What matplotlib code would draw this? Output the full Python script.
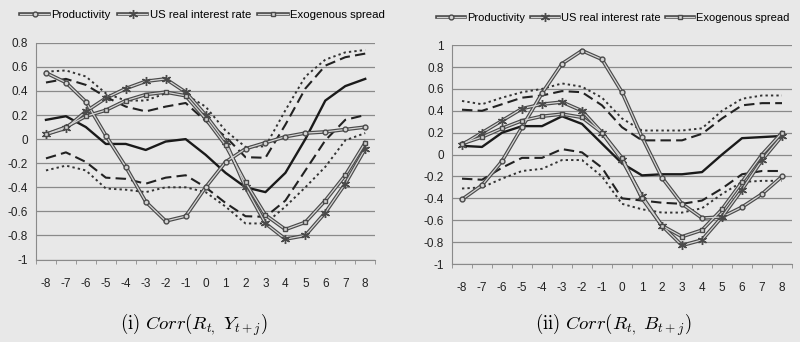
import numpy as np
import matplotlib
matplotlib.use("Agg")
import matplotlib.pyplot as plt

# leads/lags j = -8 .. 8
lags = list(range(-8, 9))

# (i) Corr(R_t, Y_t+j)
prod_y = [0.55, 0.47, 0.31, 0.03, -0.23, -0.52, -0.68, -0.64, -0.40, -0.19, -0.08, -0.03, 0.02, 0.05, 0.06, 0.08, 0.10]
usr_y = [0.04, 0.09, 0.23, 0.34, 0.42, 0.48, 0.50, 0.39, 0.20, -0.02, -0.40, -0.70, -0.83, -0.80, -0.61, -0.37, -0.08]
spread_y = [0.04, 0.10, 0.19, 0.24, 0.32, 0.37, 0.39, 0.36, 0.17, -0.05, -0.36, -0.63, -0.75, -0.69, -0.51, -0.30, -0.03]
data_y = [0.16, 0.19, 0.10, -0.04, -0.04, -0.09, -0.02, 0.00, -0.13, -0.28, -0.40, -0.44, -0.28, 0.00, 0.32, 0.44, 0.50]
band1_hi_y = [0.47, 0.50, 0.45, 0.35, 0.27, 0.23, 0.27, 0.30, 0.15, 0.02, -0.15, -0.155, 0.12, 0.42, 0.61, 0.68, 0.71]
band2_hi_y = [0.56, 0.57, 0.52, 0.38, 0.32, 0.32, 0.38, 0.37, 0.27, 0.07, -0.065, -0.06, 0.24, 0.52, 0.66, 0.72, 0.74]
band1_lo_y = [-0.16, -0.11, -0.19, -0.32, -0.33, -0.37, -0.32, -0.30, -0.40, -0.53, -0.64, -0.645, -0.51, -0.26, -0.01, 0.16, 0.20]
band2_lo_y = [-0.26, -0.22, -0.26, -0.41, -0.42, -0.44, -0.40, -0.40, -0.44, -0.56, -0.70, -0.70, -0.56, -0.40, -0.23, -0.01, 0.05]

# (ii) Corr(R_t, B_t+j)
prod_b = [-0.41, -0.28, -0.06, 0.25, 0.56, 0.83, 0.95, 0.87, 0.57, 0.16, -0.21, -0.45, -0.58, -0.57, -0.48, -0.36, -0.20]
usr_b = [0.09, 0.20, 0.31, 0.42, 0.46, 0.48, 0.40, 0.20, -0.05, -0.38, -0.65, -0.83, -0.78, -0.57, -0.32, -0.05, 0.17]
spread_b = [0.10, 0.16, 0.24, 0.31, 0.35, 0.37, 0.34, 0.20, -0.03, -0.40, -0.65, -0.75, -0.69, -0.50, -0.25, 0.00, 0.20]
data_b = [0.08, 0.07, 0.20, 0.26, 0.26, 0.35, 0.28, 0.10, -0.08, -0.19, -0.18, -0.18, -0.16, 0.00, 0.15, 0.16, 0.17]
band1_hi_b = [0.41, 0.40, 0.46, 0.52, 0.54, 0.58, 0.57, 0.45, 0.25, 0.13, 0.13, 0.13, 0.19, 0.33, 0.45, 0.47, 0.47]
band2_hi_b = [0.49, 0.46, 0.52, 0.57, 0.60, 0.65, 0.62, 0.52, 0.33, 0.22, 0.22, 0.22, 0.24, 0.40, 0.51, 0.54, 0.54]
band1_lo_b = [-0.22, -0.23, -0.12, -0.03, -0.03, 0.05, 0.02, -0.12, -0.40, -0.42, -0.44, -0.45, -0.42, -0.31, -0.18, -0.15, -0.15]
band2_lo_b = [-0.31, -0.30, -0.22, -0.15, -0.13, -0.05, -0.05, -0.20, -0.45, -0.50, -0.53, -0.53, -0.49, -0.36, -0.25, -0.24, -0.24]

bg = "#e8e8e8"
dark = "#4a4a4a"
light = "#d4d4d4"
star = (6, 2, 0)

plt.rcParams["font.family"] = ["Liberation Sans Narrow", "Liberation Sans", "DejaVu Sans"]
plt.rcParams["mathtext.fontset"] = "cm"

fig = plt.figure(figsize=(8, 3.42), dpi=100, facecolor=bg)


def double_line(ax, x, y, marker, ms, label):
    # grey outline with a light core, like the scanned excel lines
    under, = ax.plot(x, y, color=dark, lw=2.6, solid_joinstyle="miter", zorder=4)
    over, = ax.plot(x, y, color=light, lw=0.9, marker=marker, ms=ms,
                    mfc=light, mec=dark, mew=1.0, zorder=5, label=label)
    return (under, over)


def panel(ax, prod, usr, spread, data, b1hi, b2hi, b1lo, b2lo, ymin, ymax, step):
    ax.set_facecolor(bg)
    x = np.arange(len(lags))
    ax.plot(x, b2hi, color="#333333", lw=1.4, ls=(0, (1.2, 1.6)), zorder=3)
    ax.plot(x, b2lo, color="#333333", lw=1.4, ls=(0, (1.2, 1.6)), zorder=3)
    ax.plot(x, b1hi, color="#222222", lw=1.5, ls=(0, (5, 2.5)), zorder=3)
    ax.plot(x, b1lo, color="#222222", lw=1.5, ls=(0, (5, 2.5)), zorder=3)
    ax.plot(x, data, color="#1a1a1a", lw=1.7, zorder=3)
    h1 = double_line(ax, x, prod, "o", 3.5, "Productivity")
    h2 = double_line(ax, x, usr, star, 6.5, "US real interest rate")
    h3 = double_line(ax, x, spread, "s", 3.5, "Exogenous spread")

    ax.set_xlim(-0.5, len(lags) - 0.5)
    ax.set_ylim(ymin, ymax)
    ax.set_xticks(x)
    ax.set_xticklabels([str(j) for j in lags])
    ax.set_xticks(np.arange(-0.5, len(lags), 1), minor=True)
    yt = np.round(np.arange(ymin, ymax + 1e-9, step), 1)
    ax.set_yticks(yt)
    ax.set_yticklabels(["0" if v == 0 else ("%g" % v) for v in yt])
    ax.grid(axis="y", color="#8a8a8a", lw=0.9)
    ax.set_axisbelow(True)
    for s in ["top", "right"]:
        ax.spines[s].set_visible(False)
    ax.spines["left"].set_color("#8a8a8a")
    ax.spines["bottom"].set_color("#8a8a8a")
    ax.tick_params(axis="x", which="major", length=0, pad=13, labelsize=8.5, colors="#222222")
    ax.tick_params(axis="x", which="minor", length=3, color="#8a8a8a")
    ax.tick_params(axis="y", length=0, pad=6, labelsize=8.5, colors="#222222")
    return [h1, h2, h3]


ax1 = fig.add_axes([0.045, 0.241, 0.424, 0.634])
hs = panel(ax1, prod_y, usr_y, spread_y, data_y, band1_hi_y, band2_hi_y,
           band1_lo_y, band2_lo_y, -1.0, 0.8, 0.2)
ax1.legend(hs, [h[1].get_label() for h in hs], loc="center", bbox_to_anchor=(0.49, 1.13),
           ncol=3, frameon=False, fontsize=8.2, handlelength=2.6, columnspacing=0.6,
           handletextpad=0.2, borderpad=0.1)

ax2 = fig.add_axes([0.565, 0.228, 0.425, 0.640])
hs = panel(ax2, prod_b, usr_b, spread_b, data_b, band1_hi_b, band2_hi_b,
           band1_lo_b, band2_lo_b, -1.0, 1.0, 0.2)
ax2.legend(hs, [h[1].get_label() for h in hs], loc="center", bbox_to_anchor=(0.475, 1.125),
           ncol=3, frameon=False, fontsize=8.0, handlelength=2.5, columnspacing=0.5,
           handletextpad=0.2, borderpad=0.1)

fig.text(0.243, 0.035, r"$\mathrm{(i)}\ Corr(R_{t,}\ Y_{t+j})$", ha="center", fontsize=13.5)
fig.text(0.766, 0.035, r"$\mathrm{(ii)}\ Corr(R_{t,}\ B_{t+j})$", ha="center", fontsize=13.5)

fig.savefig("out.png", dpi=100, facecolor=bg)
